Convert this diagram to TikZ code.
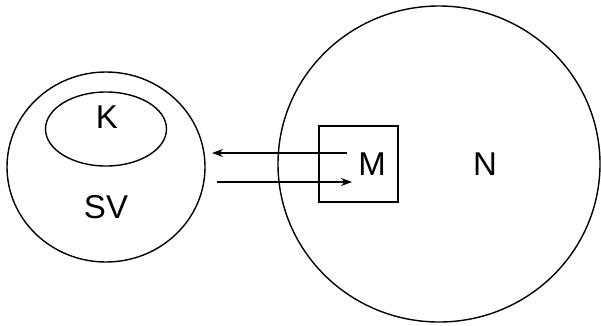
\documentclass[tikz,border=0pt]{standalone}
\usepackage{fontspec}
\setmainfont{Liberation Sans}
\usetikzlibrary{shapes.geometric,arrows.meta}
\begin{document}
\begin{tikzpicture}[x=1pt,y=-1pt,
  ring/.style={draw,ellipse,line width=1.4pt,inner sep=0pt},
  lbl/.style={font=\fontsize{33}{36}\selectfont,inner sep=0pt},
  arr/.style={line width=1.5pt,-{Stealth[length=11pt,width=8pt]}}]
\useasboundingbox (0,0) rectangle (601,325);
\node[ring,minimum width=198pt,minimum height=190pt] (SV) at (106,167) {};
\node[ring,minimum width=121pt,minimum height=74pt] (K) at (106,129) {};
\node[ring,minimum width=322pt,minimum height=316pt] (N) at (439,164) {};
\node[draw,line width=1.4pt,minimum width=79pt,minimum height=76pt,inner sep=0pt] (M) at (358.5,164) {};
\node[lbl] (Kt) at (107,117) {K};
\node[lbl] (SVt) at (106,207) {SV};
\node[lbl] (Mt) at (372,164) {M};
\node[lbl] (Nt) at (485,164) {N};
\coordinate (a1s) at (347,153);
\coordinate (a1e) at (212,153);
\coordinate (a2s) at (217,182);
\coordinate (a2e) at (352,182);
\draw[arr] (a1s) -- (a1e);
\draw[arr] (a2s) -- (a2e);
\end{tikzpicture}
\end{document}
